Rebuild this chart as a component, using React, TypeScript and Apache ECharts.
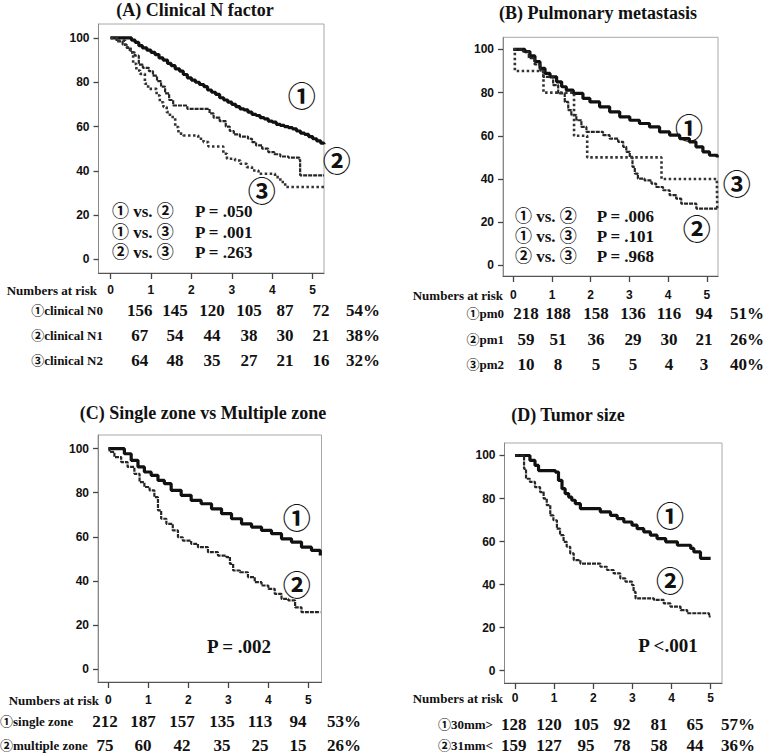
import React, { useEffect, useRef } from "react";
import * as echarts from "echarts";

// ---------- data ----------
const xTicks = [0, 1, 2, 3, 4, 5];
const yTicks = [0, 20, 40, 60, 80, 100];

const titleA = "(A) Clinical N factor";
const titleB = "(B) Pulmonary metastasis";
const titleC = "(C) Single zone vs Multiple zone";
const titleD = "(D) Tumor size";

const riskHeader = "Numbers at risk";

// Panel A curves [years, survival %]
const curveA1: number[][] = [[0,100],[0.45,100],[0.52,99],[0.61,98],[0.7,96.5],[0.79,95.5],[0.9,94.5],[1.0,93.5],[1.1,92.5],[1.2,91],[1.3,90],[1.41,88.5],[1.5,87.5],[1.6,86],[1.71,85],[1.8,83.5],[1.9,82],[2.0,81],[2.1,80],[2.2,79],[2.31,78],[2.4,76.5],[2.5,75.5],[2.6,74.5],[2.7,73],[2.8,72],[2.9,71],[3.0,70],[3.1,69],[3.2,68],[3.3,67.5],[3.4,66.5],[3.5,65.5],[3.6,65],[3.7,64],[3.8,63.5],[3.9,62.5],[4.0,62],[4.1,61],[4.2,60.5],[4.3,60],[4.4,59.5],[4.5,59],[4.6,58],[4.7,57],[4.8,56.5],[4.9,55.5],[5.0,54.5],[5.1,53.5],[5.2,52.5],[5.28,52]];
const curveA2: number[][] = [[0,100],[0.15,98.5],[0.3,97],[0.4,95.5],[0.5,93.5],[0.6,92],[0.7,88],[0.8,86.5],[0.95,85],[1.05,83],[1.15,80.5],[1.25,78],[1.35,75],[1.45,72],[1.55,69.5],[1.9,68],[2.45,66],[2.55,64],[2.7,62.5],[2.85,60],[2.95,58],[3.05,56.5],[3.2,55.5],[3.4,54.5],[3.5,53],[3.6,51.5],[3.75,50],[3.9,48.5],[4.05,47.5],[4.2,46.5],[4.4,46],[4.67,45],[4.69,38],[5.28,38]];
const curveA3: number[][] = [[0,100],[0.19,98.8],[0.36,95.8],[0.48,93.5],[0.56,88.3],[0.64,85.3],[0.73,83.8],[0.85,79.3],[0.93,77],[1.14,74],[1.22,71],[1.31,68.8],[1.39,66.5],[1.47,64.3],[1.6,59.8],[1.68,56.8],[1.8,56],[2.17,54.5],[2.3,53],[2.42,51],[2.79,47.7],[2.88,45.5],[3.08,44.7],[3.21,43.2],[3.37,41.7],[3.5,40.2],[3.66,38.7],[4.07,37.2],[4.2,35],[4.32,32.7],[5.28,32.7]];

// Panel B curves
const curveB1: number[][] = [[0,100],[0.3,99],[0.43,97],[0.56,94.3],[0.69,91.2],[0.82,88.9],[0.95,87.3],[1.12,85],[1.25,82.7],[1.37,81.1],[1.55,79.6],[1.8,77.3],[1.98,75.7],[2.23,73.4],[2.49,71.1],[2.75,68.8],[3.01,67.2],[3.26,65.7],[3.52,64.1],[3.78,61.8],[4.04,60.3],[4.3,58.7],[4.55,57.2],[4.72,54.9],[4.9,52.6],[5.07,51],[5.27,50]];
const curveB2: number[][] = [[0,100],[0.25,99],[0.4,96],[0.55,93],[0.7,90],[0.77,87.3],[1.03,83.5],[1.16,79.6],[1.33,75.7],[1.42,71.9],[1.5,69.6],[1.63,67.2],[1.76,64.1],[1.89,61.8],[2.32,60.3],[2.49,58.7],[2.71,57.2],[2.84,54.9],[2.92,52.6],[3.01,50.2],[3.08,45.6],[3.14,42.5],[3.22,40.2],[3.39,39.4],[3.57,37.9],[3.69,36.3],[3.87,34.8],[4.04,32.5],[4.21,30.9],[4.34,28.6],[4.73,26.3],[5.27,26.3]];
const curveB3: number[][] = [[0,100],[0.04,90],[0.78,80],[1.57,60],[1.91,50],[3.83,40],[5.26,40],[5.27,26.3]];

// Panel C curves
const curveC1: number[][] = [[0,100],[0.23,100],[0.4,97.7],[0.57,94.7],[0.74,91.7],[0.9,89.4],[1.07,87.9],[1.24,85.6],[1.4,84.1],[1.57,81.1],[1.82,78.8],[2.07,76.5],[2.32,75],[2.58,72.7],[2.83,70.5],[3.08,68.2],[3.33,65.9],[3.58,64.4],[3.83,62.9],[4.08,61.4],[4.33,59.1],[4.58,57.6],[4.83,55.3],[5.08,53.8],[5.3,51.5]];
const curveC2: number[][] = [[0,100],[0.03,98.5],[0.15,96.2],[0.32,93.9],[0.48,91.7],[0.65,88.6],[0.78,84.8],[0.9,82.6],[1.03,81.1],[1.15,78],[1.24,72],[1.32,68.2],[1.45,65.9],[1.61,62.9],[1.74,59.8],[1.86,58.3],[2.07,56.8],[2.24,55.3],[2.49,53],[2.74,51.5],[2.95,50.8],[3.04,47.7],[3.12,44.7],[3.29,43.9],[3.49,41.7],[3.66,39.4],[3.83,37.9],[4.0,36.4],[4.16,34.1],[4.33,31.8],[4.5,31.1],[4.67,28],[4.83,25.8],[5.3,25.8]];

// Panel D curves
const curveD1: number[][] = [[0,100],[0.34,100],[0.38,97.7],[0.51,95.4],[0.6,93],[1.03,92.3],[1.11,88.4],[1.2,84.6],[1.28,82.3],[1.37,80.7],[1.45,79.2],[1.54,77.6],[1.67,75.3],[2.18,73.8],[2.44,72.2],[2.61,70.7],[2.78,69.1],[2.99,67.6],[3.12,66],[3.29,64.5],[3.46,63],[3.63,61.4],[3.85,59.9],[4.15,58.3],[4.49,56.8],[4.57,55.2],[4.74,52.2],[5.0,52.2]];
const curveD2: number[][] = [[0,100],[0.21,100],[0.23,93.8],[0.28,89.2],[0.38,87.7],[0.51,85.3],[0.64,83],[0.73,80],[0.81,76.9],[0.9,72.2],[0.98,69.9],[1.07,66],[1.15,63],[1.24,59.9],[1.32,57.6],[1.41,54.5],[1.5,51.4],[1.67,49.8],[2.18,48.3],[2.35,46.8],[2.52,45.2],[2.69,42.9],[2.82,41.4],[2.99,39.8],[3.03,36.7],[3.08,33.6],[3.55,32.9],[3.8,31.3],[3.97,29.8],[4.23,28.2],[4.4,26.7],[4.96,25.2],[5.0,25.2]];

// Numbers at risk
const riskLabelsA = ["①clinical N0", "②clinical N1", "③clinical N2"];
const riskValuesA = [[156, 145, 120, 105, 87, 72], [67, 54, 44, 38, 30, 21], [64, 48, 35, 27, 21, 16]];
const riskPctA = ["54%", "38%", "32%"];

const riskLabelsB = ["①pm0", "②pm1", "③pm2"];
const riskValuesB = [[218, 188, 158, 136, 116, 94], [59, 51, 36, 29, 30, 21], [10, 8, 5, 5, 4, 3]];
const riskPctB = ["51%", "26%", "40%"];

const riskLabelsC = ["①single zone", "②multiple zone"];
const riskValuesC = [[212, 187, 157, 135, 113, 94], [75, 60, 42, 35, 25, 15]];
const riskPctC = ["53%", "26%"];

const riskLabelsD = ["①30mm>", "②31mm<"];
const riskValuesD = [[128, 120, 105, 92, 81, 65], [159, 127, 95, 78, 58, 44]];
const riskPctD = ["57%", "36%"];

// P values
const compareLabels = ["① vs. ②", "① vs. ③", "② vs. ③"];
const pValuesA = ["P = .050", "P = .001", "P = .263"];
const pValuesB = ["P = .006", "P = .101", "P = .968"];
const pValueC = "P = .002";
const pValueD = "P <.001";

const curveMarks = ["①", "②", "③"];

// ---------- layout ----------
const SERIF = '"Liberation Serif", "Times New Roman", "Noto Sans CJK JP", serif';
const SANS = '"Liberation Sans", Arial, sans-serif';
const CIRC = '"Noto Sans CJK JP", "DejaVu Sans", sans-serif';

const panels = [
  {
    title: titleA, titleX: 195, titleY: 10,
    box: { l: 98.5, t: 24, r: 324, b: 273 }, xMin: -0.297, xMax: 5.28, yMin: -6.1, yMax: 106.3, xLabelMargin: 11,
    curves: [curveA1, curveA2, curveA3],
    marks: [[301.7, 95], [336.7, 160], [261.7, 190]],
    header: { x: 97, y: 290, align: "right" },
    labels: riskLabelsA, values: riskValuesA, pct: riskPctA,
    cols: [139.7, 175, 212, 249, 285, 321], pctX: 363, rows: [310, 335, 360], labelX: 103, labelAlign: "right",
  },
  {
    title: titleB, titleX: 598, titleY: 13,
    box: { l: 503, t: 37.3, r: 718, b: 276 }, xMin: -0.266, xMax: 5.29, yMin: -4.9, yMax: 105.6, xLabelMargin: 13,
    curves: [curveB1, curveB2, curveB3],
    marks: [[689, 126.7], [696.7, 228.3], [736.7, 182.7]],
    header: { x: 503, y: 295, align: "right" },
    labels: riskLabelsB, values: riskValuesB, pct: riskPctB,
    cols: [526, 558, 596, 633, 669, 704], pctX: 747, rows: [313, 339, 364], labelX: 504, labelAlign: "right",
  },
  {
    title: titleC, titleX: 203, titleY: 413,
    box: { l: 98, t: 435, r: 321.5, b: 682 }, xMin: -0.26, xMax: 5.33, yMin: -5.9, yMax: 106.2, xLabelMargin: 12,
    curves: [curveC1, curveC2],
    marks: [[296.7, 517.3], [296.7, 584]],
    header: { x: 99, y: 700, align: "right" },
    labels: riskLabelsC, values: riskValuesC, pct: riskPctC,
    cols: [105, 143, 182, 222, 260, 298], pctX: 344, rows: [721.7, 745.5], labelX: 0, labelAlign: "left",
  },
  {
    title: titleD, titleX: 568, titleY: 415,
    box: { l: 504.5, t: 443, r: 722, b: 683 }, xMin: -0.27, xMax: 5.29, yMin: -5.7, yMax: 105.8, xLabelMargin: 9,
    curves: [curveD1, curveD2],
    marks: [[670, 515], [670, 580]],
    header: { x: 503, y: 698, align: "right" },
    labels: riskLabelsD, values: riskValuesD, pct: riskPctD,
    cols: [513.7, 549, 586, 622, 659, 695], pctX: 738, rows: [724, 745.5], labelX: 493, labelAlign: "right",
  },
];

const lineStyles = [
  { color: "#111", width: 3.2, type: "solid" },
  { color: "#262626", width: 2.2, type: [4, 1] },
  { color: "#333", width: 2.6, type: [2.5, 2.5] },
];

function txt(text: string, x: number, y: number, font: string, align = "center", valign = "middle") {
  return {
    type: "text",
    x,
    y,
    silent: true,
    style: {
      text,
      font,
      fill: "#111",
      textAlign: align,
      textVerticalAlign: valign,
      align,
      verticalAlign: valign,
    },
  };
}

function buildOption() {
  const grid: any[] = [];
  const xAxis: any[] = [];
  const yAxis: any[] = [];
  const series: any[] = [];
  const graphic: any[] = [];

  panels.forEach((p, i) => {
    grid.push({
      left: p.box.l,
      top: p.box.t,
      width: p.box.r - p.box.l,
      height: p.box.b - p.box.t,
      show: true,
      borderColor: "#a8a8a8",
      borderWidth: 1,
      backgroundColor: "transparent",
    });
    xAxis.push({
      type: "value",
      gridIndex: i,
      min: p.xMin,
      max: p.xMax,
      splitLine: { show: false },
      axisLine: { show: true, onZero: false, lineStyle: { color: "#555", width: 1.2 } },
      axisTick: { show: true, customValues: xTicks, length: 6, lineStyle: { color: "#444", width: 1.3 } },
      axisLabel: {
        customValues: xTicks,
        margin: p.xLabelMargin,
        fontFamily: SANS,
        fontWeight: "bold",
        fontSize: 12,
        color: "#111",
      },
    });
    yAxis.push({
      type: "value",
      gridIndex: i,
      min: p.yMin,
      max: p.yMax,
      splitLine: { show: false },
      axisLine: { show: true, onZero: false, lineStyle: { color: "#888", width: 1 } },
      axisTick: { show: true, customValues: yTicks, length: 5, lineStyle: { color: "#444", width: 1.3 } },
      axisLabel: {
        customValues: yTicks,
        margin: 9,
        fontFamily: SANS,
        fontWeight: "bold",
        fontSize: 12,
        color: "#111",
      },
    });
    p.curves.forEach((c, k) => {
      series.push({
        type: "line",
        xAxisIndex: i,
        yAxisIndex: i,
        data: c,
        step: "end",
        showSymbol: false,
        symbol: "none",
        lineStyle: lineStyles[k],
        silent: true,
      });
    });

    graphic.push(txt(p.title, p.titleX, p.titleY, `bold 18px ${SERIF}`));
    p.marks.forEach((m, k) => graphic.push(txt(curveMarks[k], m[0], m[1], `bold 28px ${CIRC}`)));
    graphic.push(txt(riskHeader, p.header.x, p.header.y, `bold 13px ${SERIF}`, p.header.align));
    p.labels.forEach((lab, r) => {
      graphic.push(txt(lab, p.labelX, p.rows[r], `bold 13px ${SERIF}`, p.labelAlign));
      p.values[r].forEach((v, c) => graphic.push(txt(String(v), p.cols[c], p.rows[r], `bold 17px ${SERIF}`)));
      graphic.push(txt(p.pct[r], p.pctX, p.rows[r], `bold 17px ${SERIF}`));
    });
  });

  const pA = { lx: 112, px: 195, ys: [211.7, 232, 252] };
  const pB = { lx: 515, px: 596.7, ys: [216.7, 236.7, 256.7] };
  compareLabels.forEach((lab, r) => {
    graphic.push(txt(lab, pA.lx, pA.ys[r], `bold 17px ${SERIF}`, "left"));
    graphic.push(txt(pValuesA[r], pA.px, pA.ys[r], `bold 17px ${SERIF}`, "left"));
    graphic.push(txt(lab, pB.lx, pB.ys[r], `bold 17px ${SERIF}`, "left"));
    graphic.push(txt(pValuesB[r], pB.px, pB.ys[r], `bold 17px ${SERIF}`, "left"));
  });
  graphic.push(txt(pValueC, 239, 646.7, `bold 19px ${SERIF}`));
  graphic.push(txt(pValueD, 668, 645, `bold 19px ${SERIF}`));

  return {
    animation: false,
    backgroundColor: "#fff",
    grid,
    xAxis,
    yAxis,
    series,
    graphic: { elements: graphic },
  };
}

export default function App() {
  const ref = useRef<HTMLDivElement>(null);
  useEffect(() => {
    if (!ref.current) return;
    const chart = echarts.init(ref.current, undefined, { renderer: "svg" });
    chart.setOption(buildOption() as any);
    return () => chart.dispose();
  }, []);
  return (
    <div
      ref={ref}
      style={{ position: "fixed", left: 0, top: 0, width: 765, height: 756, background: "#fff" }}
    />
  );
}
